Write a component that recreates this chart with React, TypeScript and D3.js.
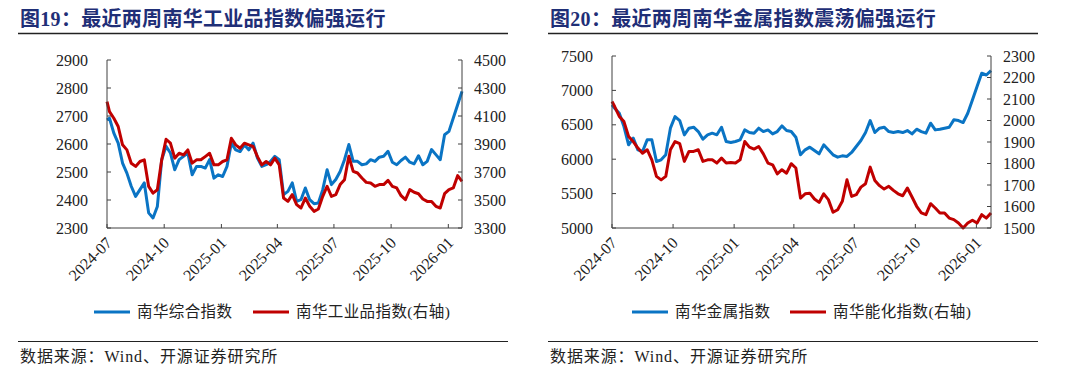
import React from "react";
import * as d3 from "d3";

// weekly observation dates (Fridays), shared by both panels
const dates = [
  "2024-07-01", "2024-07-05", "2024-07-12", "2024-07-19", "2024-07-26", "2024-08-02", "2024-08-09",
  "2024-08-16", "2024-08-23", "2024-08-30", "2024-09-06", "2024-09-13", "2024-09-20", "2024-09-27",
  "2024-10-04", "2024-10-11", "2024-10-18", "2024-10-25", "2024-11-01", "2024-11-08", "2024-11-15",
  "2024-11-22", "2024-11-29", "2024-12-06", "2024-12-13", "2024-12-20", "2024-12-27", "2025-01-03",
  "2025-01-10", "2025-01-17", "2025-01-24", "2025-01-31", "2025-02-07", "2025-02-14", "2025-02-21",
  "2025-02-28", "2025-03-07", "2025-03-14", "2025-03-21", "2025-03-28", "2025-04-04", "2025-04-11",
  "2025-04-18", "2025-04-25", "2025-05-02", "2025-05-09", "2025-05-16", "2025-05-23", "2025-05-30",
  "2025-06-06", "2025-06-13", "2025-06-20", "2025-06-27", "2025-07-04", "2025-07-11", "2025-07-18",
  "2025-07-25", "2025-08-01", "2025-08-08", "2025-08-15", "2025-08-22", "2025-08-29", "2025-09-05",
  "2025-09-12", "2025-09-19", "2025-09-26", "2025-10-03", "2025-10-10", "2025-10-17", "2025-10-24",
  "2025-10-31", "2025-11-07", "2025-11-14", "2025-11-21", "2025-11-28", "2025-12-05", "2025-12-12",
  "2025-12-19", "2025-12-26", "2026-01-02", "2026-01-09", "2026-01-16", "2026-01-23",
];

// 南华综合指数 (left axis, chart 19)
const composite = [
  2686, 2692, 2639, 2603, 2532, 2496, 2449, 2413, 2437, 2461, 2354, 2336, 2377, 2544, 2592, 2568,
  2508, 2544, 2556, 2568, 2490, 2520, 2520, 2514, 2544, 2478, 2490, 2484, 2520, 2603, 2579, 2573,
  2597, 2579, 2603, 2550, 2520, 2526, 2538, 2556, 2544, 2419, 2431, 2461, 2395, 2401, 2443, 2401,
  2387, 2389, 2437, 2508, 2455, 2473, 2502, 2544, 2598, 2538, 2538, 2526, 2529, 2544, 2538, 2553,
  2556, 2574, 2535, 2526, 2541, 2553, 2535, 2529, 2558, 2526, 2538, 2580, 2562, 2544, 2633, 2645,
  2693, 2740, 2788,
];

// 南华工业品指数 (right axis, chart 19)
const industrial = [
  4203, 4131, 4084, 4025, 3894, 3858, 3763, 3740, 3775, 3787, 3597, 3549, 3573, 3787, 3934, 3906,
  3799, 3834, 3822, 3858, 3763, 3787, 3787, 3810, 3834, 3751, 3751, 3775, 3787, 3941, 3894, 3870,
  3906, 3894, 3882, 3810, 3751, 3775, 3751, 3799, 3751, 3514, 3490, 3538, 3467, 3443, 3514, 3455,
  3419, 3436, 3526, 3598, 3526, 3538, 3610, 3645, 3812, 3705, 3693, 3657, 3626, 3621, 3598, 3610,
  3610, 3640, 3598, 3586, 3531, 3502, 3574, 3555, 3545, 3507, 3490, 3490, 3455, 3443, 3545, 3574,
  3586, 3674, 3633,
];

// 南华金属指数 (left axis, chart 20)
const metals = [
  6789, 6741, 6668, 6475, 6209, 6306, 6136, 6112, 6281, 6281, 5967, 5991, 6064, 6451, 6620, 6562,
  6354, 6451, 6465, 6402, 6291, 6354, 6378, 6354, 6465, 6257, 6243, 6257, 6281, 6426, 6388, 6378,
  6451, 6402, 6426, 6368, 6402, 6485, 6417, 6402, 6320, 6064, 6136, 6175, 6127, 6078, 6209, 6136,
  6064, 6030, 6049, 6040, 6098, 6185, 6272, 6388, 6562, 6388, 6451, 6465, 6402, 6388, 6402, 6388,
  6417, 6368, 6436, 6402, 6378, 6523, 6426, 6436, 6451, 6465, 6572, 6562, 6533, 6668, 6862, 7055,
  7249, 7224, 7287,
];

// 南华能化指数 (right axis, chart 20)
const energyChem = [
  2088, 2065, 2019, 1995, 1926, 1902, 1872, 1848, 1864, 1817, 1740, 1724, 1740, 1864, 1902, 1892,
  1810, 1856, 1856, 1864, 1810, 1817, 1817, 1802, 1825, 1802, 1805, 1802, 1817, 1902, 1876, 1867,
  1879, 1845, 1802, 1794, 1752, 1771, 1755, 1799, 1779, 1639, 1659, 1662, 1635, 1619, 1659, 1632,
  1573, 1585, 1624, 1724, 1647, 1655, 1690, 1706, 1783, 1721, 1697, 1681, 1694, 1675, 1659, 1650,
  1686, 1644, 1601, 1570, 1562, 1613, 1593, 1570, 1570, 1546, 1539, 1523, 1500, 1523, 1536, 1523,
  1562, 1546, 1570,
];

const xTickLabels = ["2024-07", "2024-10", "2025-01", "2025-04", "2025-07", "2025-10", "2026-01"];
const ticks19Left = [2300, 2400, 2500, 2600, 2700, 2800, 2900];
const ticks19Right = [3300, 3500, 3700, 3900, 4100, 4300, 4500];
const ticks20Left = [5000, 5500, 6000, 6500, 7000, 7500];
const ticks20Right = [1500, 1600, 1700, 1800, 1900, 2000, 2100, 2200, 2300];

const BLUE = "#0a74c4";
const RED = "#c00000";
const AXIS = "#404040";
const SERIF = "'Liberation Serif', 'Times New Roman', 'Noto Sans CJK SC', serif";

const parse = d3.timeParse("%Y-%m-%d");
const parseMonth = d3.timeParse("%Y-%m");
const xDates = dates.map(d => parse(d) as Date);

function Panel(props: any) {
  const { left, right, top, bottom, title, blue, red, leftTicks, rightTicks, blueName, redName, lg, ruleL, ruleR } = props;

  const x = d3.scaleTime().domain(d3.extent(xDates) as [Date, Date]).range([left, right]);
  const yl = d3.scaleLinear().domain(d3.extent(leftTicks) as [number, number]).range([bottom, top]);
  const yr = d3.scaleLinear().domain(d3.extent(rightTicks) as [number, number]).range([bottom, top]);

  const blueLine = d3.line<number>().x((_, i) => x(xDates[i])).y(d => yl(d));
  const redLine = d3.line<number>().x((_, i) => x(xDates[i])).y(d => yr(d));

  const tickLen = 4;

  return (
    <g>
      {/* title */}
      <text x={ruleL + 2} y={26} fontFamily={SERIF} fontWeight="bold" fontSize={20} letterSpacing={0.3} fill="#1f2f77">
        {title}
      </text>
      <line x1={ruleL} x2={ruleR} y1={33.5} y2={33.5} stroke="#222" strokeWidth={1.5} />

      {/* series */}
      <path d={blueLine(blue) || ""} fill="none" stroke={BLUE} strokeWidth={3} strokeLinejoin="round" />
      <path d={redLine(red) || ""} fill="none" stroke={RED} strokeWidth={3} strokeLinejoin="round" />

      {/* axes */}
      <g stroke={AXIS} strokeWidth={1}>
        <line x1={left} x2={left} y1={top} y2={bottom} />
        <line x1={right} x2={right} y1={top} y2={bottom} />
        <line x1={left} x2={right} y1={bottom} y2={bottom} />
        {leftTicks.map((t: number) => (
          <line key={"lt" + t} x1={left} x2={left + tickLen} y1={yl(t)} y2={yl(t)} />
        ))}
        {rightTicks.map((t: number) => (
          <line key={"rt" + t} x1={right - tickLen} x2={right} y1={yr(t)} y2={yr(t)} />
        ))}
        {xTickLabels.map(m => {
          const px = x(parseMonth(m) as Date);
          return <line key={"xt" + m} x1={px} x2={px} y1={bottom} y2={bottom - tickLen} />;
        })}
      </g>

      {leftTicks.map((t: number) => (
        <text key={"ll" + t} x={left - 19} y={yl(t)} dy="0.35em" textAnchor="end" fontFamily={SERIF} fontSize={16} fill="#222">
          {t}
        </text>
      ))}
      {rightTicks.map((t: number) => (
        <text key={"rl" + t} x={right + 12} y={yr(t)} dy="0.35em" fontFamily={SERIF} fontSize={16} fill="#222">
          {t}
        </text>
      ))}
      {xTickLabels.map(m => {
        const px = x(parseMonth(m) as Date);
        return (
          <text key={"xl" + m} transform={`translate(${px + 2},${bottom + 12}) rotate(-45)`} textAnchor="end" dy="0.35em" fontFamily={SERIF} fontSize={16} fill="#222">
            {m}
          </text>
        );
      })}

      {/* legend */}
      <line x1={lg[0]} x2={lg[0] + 36} y1={312} y2={312} stroke={BLUE} strokeWidth={3} />
      <text x={lg[0] + 43} y={312} dy="0.35em" fontFamily={SERIF} fontSize={15.5} letterSpacing={0.4} fill="#222">{blueName}</text>
      <line x1={lg[1]} x2={lg[1] + 36} y1={312} y2={312} stroke={RED} strokeWidth={3} />
      <text x={lg[1] + 43} y={312} dy="0.35em" fontFamily={SERIF} fontSize={15.5} letterSpacing={0.4} fill="#222">{redName}</text>

      {/* source */}
      <line x1={ruleL} x2={ruleL + 490} y1={341.5} y2={341.5} stroke="#222" strokeWidth={1.2} />
      <text x={ruleL + 2} y={362} fontFamily={SERIF} fontSize={16} letterSpacing={0.9} fill="#222">数据来源：Wind、开源证券研究所</text>
    </g>
  );
}

export default function App() {
  return (
    <svg width={1080} height={384} style={{ position: "absolute", left: 0, top: 0, background: "#fff" }}>
      <rect width={1080} height={384} fill="#fff" />
      <Panel
        left={107} right={462} top={60} bottom={228}
        ruleL={18} ruleR={508}
        title="图19：最近两周南华工业品指数偏强运行"
        blue={composite} red={industrial}
        leftTicks={ticks19Left} rightTicks={ticks19Right}
        blueName="南华综合指数" redName="南华工业品指数(右轴)"
        lg={[94, 253]}
      />
      <Panel
        left={612} right={991} top={56} bottom={228}
        ruleL={548} ruleR={1038}
        title="图20：最近两周南华金属指数震荡偏强运行"
        blue={metals} red={energyChem}
        leftTicks={ticks20Left} rightTicks={ticks20Right}
        blueName="南华金属指数" redName="南华能化指数(右轴)"
        lg={[632, 790]}
      />
    </svg>
  );
}
